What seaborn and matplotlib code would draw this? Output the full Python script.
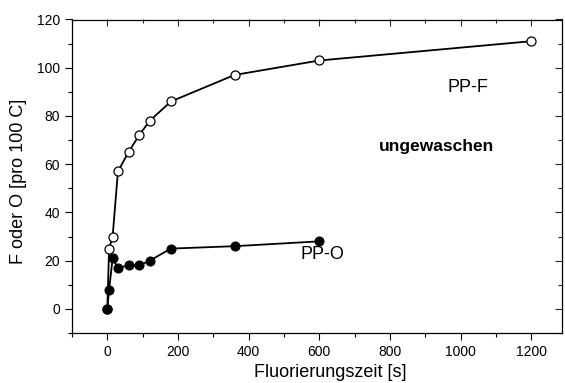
import matplotlib
matplotlib.use("Agg")
import matplotlib.pyplot as plt
from matplotlib.ticker import MultipleLocator
import seaborn as sns

# fluorination time [s] and F / O content per 100 C
time_f = [0, 5, 15, 30, 60, 90, 120, 180, 360, 600, 1200]
pp_f = [0, 25, 30, 57, 65, 72, 78, 86, 97, 103, 111]
time_o = [0, 5, 15, 30, 60, 90, 120, 180, 360, 600]
pp_o = [0, 8, 21, 17, 18, 18, 20, 25, 26, 28]

sns.set_style("ticks")
plt.rcParams['font.family'] = ['Liberation Sans', 'DejaVu Sans']
plt.rcParams['text.color'] = 'black'
plt.rcParams['axes.labelcolor'] = 'black'

fig, ax = plt.subplots(figsize=(5.65, 3.83), dpi=100)
fig.subplots_adjust(left=72/565, right=562/565, top=1-19.5/383, bottom=1-333/383)

sns.lineplot(x=time_f, y=pp_f, ax=ax, color="black", lw=1.3, sort=False,
             marker="o", markersize=6.5, markerfacecolor="white",
             markeredgecolor="black", markeredgewidth=0.9)
sns.lineplot(x=time_o, y=pp_o, ax=ax, color="black", lw=1.3, sort=False,
             marker="o", markersize=6.5, markerfacecolor="black",
             markeredgecolor="black")

ax.set_xlim(-100, 1287)
ax.set_ylim(-10, 120)
ax.xaxis.set_major_locator(MultipleLocator(200))
ax.xaxis.set_minor_locator(MultipleLocator(100))
ax.yaxis.set_major_locator(MultipleLocator(20))
ax.yaxis.set_minor_locator(MultipleLocator(10))

for s in ax.spines.values():
    s.set_visible(True)
    s.set_linewidth(0.9)
    s.set_color("black")

ax.tick_params(which="both", direction="out", colors="black", labelsize=10,
               top=False, right=False)
ax.tick_params(which="major", length=5, width=0.8)
ax.tick_params(which="minor", length=3, width=0.8)

# inward ticks on top and right
sec_x = ax.secondary_xaxis("top")
sec_x.xaxis.set_major_locator(MultipleLocator(200))
sec_x.xaxis.set_minor_locator(MultipleLocator(100))
sec_x.tick_params(which="both", direction="in", labeltop=False, width=0.8)
sec_x.tick_params(which="major", length=5)
sec_x.tick_params(which="minor", length=3)
sec_x.spines["top"].set_visible(False)
sec_y = ax.secondary_yaxis("right")
sec_y.yaxis.set_major_locator(MultipleLocator(20))
sec_y.yaxis.set_minor_locator(MultipleLocator(10))
sec_y.tick_params(which="both", direction="in", labelright=False, width=0.8)
sec_y.tick_params(which="major", length=5)
sec_y.tick_params(which="minor", length=3)
sec_y.spines["right"].set_visible(False)

ax.set_xlabel("Fluorierungszeit [s]", fontsize=13)
ax.set_ylabel("F oder O [pro 100 C]", fontsize=13)
ax.xaxis.set_label_coords(0.527, -0.1)
ax.yaxis.set_label_coords(-0.092, 0.485)

ax.text(1020, 92, "PP-F", fontsize=13, ha="center", va="center")
ax.text(610, 22.5, "PP-O", fontsize=13, ha="center", va="center")
ax.text(932, 67.5, "ungewaschen", fontsize=12.5, fontweight="bold",
        ha="center", va="center")

fig.savefig("out.png", dpi=100)
